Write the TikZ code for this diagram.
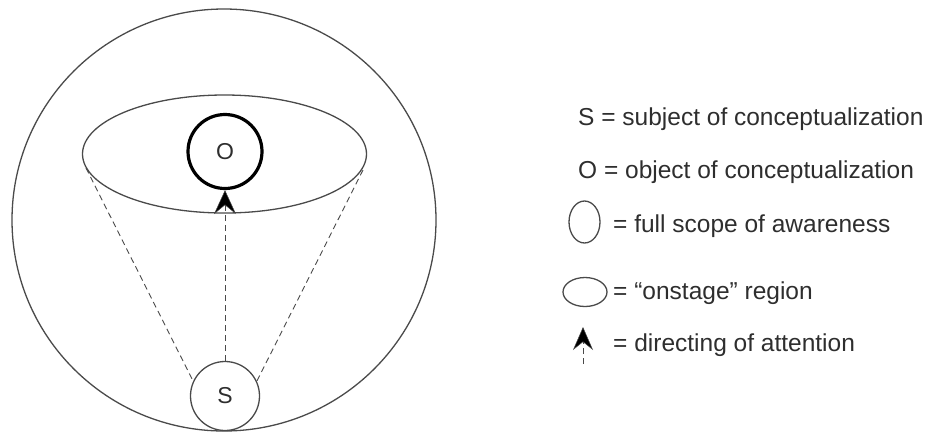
\documentclass[tikz,border=0pt]{standalone}
\usepackage{fontspec}
\setmainfont{Liberation Sans}
\usetikzlibrary{arrows.meta,shapes.geometric}
\definecolor{ln}{HTML}{4A4A4A}
\definecolor{tx}{HTML}{2E2E2E}
\tikzset{
  outline/.style={draw=ln, line width=1.3pt},
  dsh/.style={draw=ln, line width=0.9pt, dash pattern=on 6pt off 4pt},
  attn/.style={dsh, -{Stealth[length=24pt, width=22pt, inset=9pt, fill=black, line width=0.5pt]}},
  attnsmall/.style={dsh, -{Stealth[length=23pt, width=20pt, inset=8pt, fill=black, line width=0.5pt]}},
  lbl/.style={anchor=base west, inner sep=0pt, text=tx, font=\fontsize{24.5}{28}\selectfont},
  circtext/.style={circle, inner sep=0pt, text=tx, font=\fontsize{23}{28}\selectfont}
}
\begin{document}
\begin{tikzpicture}[x=1pt, y=-1pt]
\useasboundingbox (0,0) rectangle (932,432);
% full scope of awareness
\node[outline, ellipse, minimum width=424pt, minimum height=422pt, inner sep=0pt] (scope) at (224,220) {};
% onstage region
\node[outline, ellipse, minimum width=284pt, minimum height=118pt, inner sep=0pt] (stage) at (224.5,154) {};
% object
\node[circtext, draw=black, line width=3.2pt, minimum size=74pt] (O) at (225,151.5) {O};
% subject
\node[circtext, outline, minimum size=69pt] (S) at (225,396) {S};
% viewing lines
\coordinate (stL) at (86,168);
\coordinate (stR) at (363,170);
\draw[dsh] (stL) -- (S.155);
\draw[dsh] (stR) -- (S.25);
% directing of attention
\draw[attn] (S.north) -- (O.south);

% legend
\node[lbl] (l1) at (578,125) {S = subject of conceptualization};
\node[lbl] (l2) at (578,178) {O = object of conceptualization};
\node[outline, ellipse, minimum width=31pt, minimum height=42pt, inner sep=0pt] (e1) at (584.5,222) {};
\node[lbl] (l3) at (613,232) {= full scope of awareness};
\node[outline, ellipse, minimum width=44pt, minimum height=29pt, inner sep=0pt] (e2) at (585,292) {};
\node[lbl] (l4) at (613,299) {= “onstage” region};
\coordinate (at) at (583,364);
\coordinate (ah) at (583,327);
\draw[attnsmall] (at) -- (ah);
\node[lbl] (l5) at (613,351) {= directing of attention};
\end{tikzpicture}
\end{document}
